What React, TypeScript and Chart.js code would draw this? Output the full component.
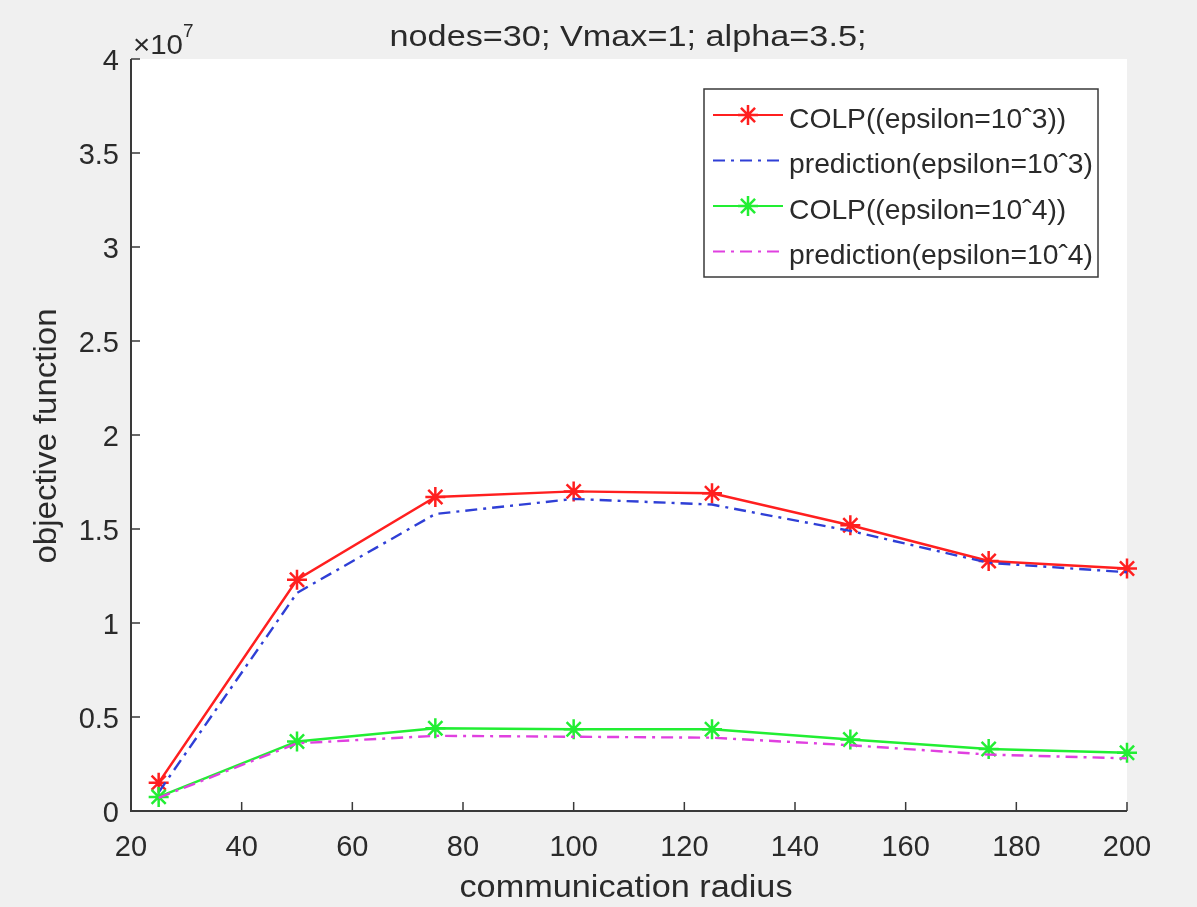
import React, { useEffect, useRef } from "react";
import { Chart, registerables } from "chart.js";

Chart.register(...registerables);

const radius = [25, 50, 75, 100, 125, 150, 175, 200];
const colp3 = [0.15, 1.23, 1.67, 1.7, 1.69, 1.52, 1.33, 1.29];
const pred3 = [0.1, 1.16, 1.58, 1.66, 1.63, 1.49, 1.32, 1.27];
const colp4 = [0.075, 0.37, 0.44, 0.435, 0.435, 0.38, 0.33, 0.31];
const pred4 = [0.07, 0.36, 0.4, 0.395, 0.39, 0.35, 0.3, 0.28];
const xTicks = [20, 40, 60, 80, 100, 120, 140, 160, 180, 200];
const yTicks = [0, 0.5, 1, 1.5, 2, 2.5, 3, 3.5, 4];
const legendLabels = [
  "COLP((epsilon=10ˆ3))",
  "prediction(epsilon=10ˆ3)",
  "COLP((epsilon=10ˆ4))",
  "prediction(epsilon=10ˆ4)",
];
const titleText = "nodes=30; Vmax=1; alpha=3.5;";
const xTitle = "communication radius";
const yTitle = "objective function";

const FONT = '"Liberation Sans", Arial, Helvetica, sans-serif';
const TEXT = "#2a2a2a";
const AXIS = "#3a3a3a";
const RED = "#ff1f1f";
const BLUE = "#2f3fd6";
const GREEN = "#22ee33";
const MAGENTA = "#e040e0";
const DASHDOT = [12, 6, 3, 6];

function drawText(
  ctx: CanvasRenderingContext2D,
  s: string,
  x: number,
  y: number,
  size: number,
  align: CanvasTextAlign,
  baseline: CanvasTextBaseline,
  targetW?: number
) {
  ctx.save();
  ctx.font = `${size}px ${FONT}`;
  ctx.fillStyle = TEXT;
  ctx.textBaseline = baseline;
  let sx = 1;
  if (targetW) sx = targetW / ctx.measureText(s).width;
  ctx.translate(x, y);
  ctx.scale(sx, 1);
  ctx.textAlign = align;
  ctx.fillText(s, 0, 0);
  ctx.restore();
}

function drawStar(ctx: CanvasRenderingContext2D, x: number, y: number, r: number, color: string) {
  ctx.save();
  ctx.strokeStyle = color;
  ctx.lineWidth = 2.5;
  ctx.setLineDash([]);
  ctx.beginPath();
  for (let i = 0; i < 4; i++) {
    const a = (i * Math.PI) / 4;
    ctx.moveTo(x - r * Math.cos(a), y - r * Math.sin(a));
    ctx.lineTo(x + r * Math.cos(a), y + r * Math.sin(a));
  }
  ctx.stroke();
  ctx.restore();
}

const decorPlugin = {
  id: "decor",
  beforeDraw(chart: any) {
    const { ctx, chartArea: a } = chart;
    ctx.save();
    ctx.fillStyle = "#f0f0f0";
    ctx.fillRect(0, 0, chart.width, chart.height);
    ctx.fillStyle = "#ffffff";
    ctx.fillRect(a.left, a.top, a.right - a.left, a.bottom - a.top);
    ctx.restore();
  },
  afterDraw(chart: any) {
    const { ctx, chartArea: a } = chart;
    const xs = chart.scales.x;
    const ys = chart.scales.y;
    ctx.save();
    ctx.strokeStyle = AXIS;
    ctx.lineWidth = 2;
    ctx.beginPath();
    ctx.moveTo(a.left, a.top);
    ctx.lineTo(a.left, a.bottom);
    ctx.lineTo(a.right, a.bottom);
    ctx.stroke();
    ctx.lineWidth = 1.5;
    ctx.beginPath();
    xTicks.forEach((v) => {
      const px = xs.getPixelForValue(v);
      ctx.moveTo(px, a.bottom);
      ctx.lineTo(px, a.bottom - 9);
    });
    yTicks.forEach((v) => {
      const py = ys.getPixelForValue(v);
      ctx.moveTo(a.left, py);
      ctx.lineTo(a.left + 9, py);
    });
    ctx.stroke();
    ctx.restore();
    // tick labels
    xTicks.forEach((v) => {
      drawText(ctx, String(v), xs.getPixelForValue(v), 856, 29, "center", "alphabetic");
    });
    yTicks.forEach((v) => {
      drawText(ctx, String(v), 119, ys.getPixelForValue(v) + 3, 29, "right", "middle");
    });
    // exponent
    drawText(ctx, "×10", 133, 54, 28, "left", "alphabetic", 50);
    drawText(ctx, "7", 183, 37, 19, "left", "alphabetic");
    // titles
    drawText(ctx, titleText, 628, 46, 30, "center", "alphabetic", 477);
    drawText(ctx, xTitle, 626, 897, 31, "center", "alphabetic", 333);
    ctx.save();
    ctx.translate(47, 436);
    ctx.rotate(-Math.PI / 2);
    drawText(ctx, yTitle, 0, 0, 31, "center", "middle", 255);
    ctx.restore();
    // legend
    const bx = 704, by = 89, bw = 394, bh = 188;
    ctx.save();
    ctx.fillStyle = "#ffffff";
    ctx.fillRect(bx, by, bw, bh);
    ctx.strokeStyle = AXIS;
    ctx.lineWidth = 1.5;
    ctx.strokeRect(bx, by, bw, bh);
    ctx.restore();
    const styles = [
      { c: RED, dash: [] as number[], star: true },
      { c: BLUE, dash: DASHDOT, star: false },
      { c: GREEN, dash: [] as number[], star: true },
      { c: MAGENTA, dash: DASHDOT, star: false },
    ];
    ctx.save();
    ctx.font = `28px ${FONT}`;
    const legScale = 304 / ctx.measureText(legendLabels[1]).width;
    ctx.restore();
    legendLabels.forEach((lab, i) => {
      const ly = 115 + i * 45.5;
      const st = styles[i];
      ctx.save();
      ctx.strokeStyle = st.c;
      ctx.lineWidth = 2.2;
      ctx.setLineDash(st.dash);
      ctx.beginPath();
      ctx.moveTo(713, ly);
      ctx.lineTo(783, ly);
      ctx.stroke();
      ctx.restore();
      if (st.star) drawStar(ctx, 748, ly, 10, st.c);
      ctx.save();
      ctx.font = `28px ${FONT}`;
      const w = ctx.measureText(lab).width * legScale;
      ctx.restore();
      drawText(ctx, lab, 789, ly + 5, 28, "left", "middle", w);
    });
  },
};

export default function App() {
  const ref = useRef<HTMLCanvasElement>(null);
  useEffect(() => {
    document.body.style.margin = "0";
    const pts = (arr: number[]) => arr.map((y, i) => ({ x: radius[i], y }));
    const chart = new Chart(ref.current as HTMLCanvasElement, {
      type: "line",
      data: {
        datasets: [
          {
            label: legendLabels[0],
            data: pts(colp3),
            borderColor: RED,
            backgroundColor: RED,
            borderWidth: 2.4,
            pointStyle: "star",
            pointRadius: 10,
            pointBorderWidth: 2.5,
            pointBorderColor: RED,
            order: 3,
            clip: false,
          },
          {
            label: legendLabels[1],
            data: pts(pred3),
            borderColor: BLUE,
            borderWidth: 2.4,
            borderDash: DASHDOT,
            pointRadius: 0,
            order: 2,
            clip: false,
          },
          {
            label: legendLabels[2],
            data: pts(colp4),
            borderColor: GREEN,
            backgroundColor: GREEN,
            borderWidth: 2.4,
            pointStyle: "star",
            pointRadius: 10,
            pointBorderWidth: 2.5,
            pointBorderColor: GREEN,
            order: 1,
            clip: false,
          },
          {
            label: legendLabels[3],
            data: pts(pred4),
            borderColor: MAGENTA,
            borderWidth: 2.4,
            borderDash: DASHDOT,
            pointRadius: 0,
            order: 0,
            clip: false,
          },
        ],
      },
      options: {
        animation: false,
        responsive: false,
        devicePixelRatio: 1,
        layout: { padding: { left: 131, right: 70, top: 59, bottom: 96 } },
        plugins: { legend: { display: false }, tooltip: { enabled: false }, title: { display: false } },
        scales: {
          x: { type: "linear", min: 20, max: 200, display: false },
          y: { type: "linear", min: 0, max: 4, display: false },
        },
      },
      plugins: [decorPlugin],
    });
    return () => chart.destroy();
  }, []);
  return (
    <div style={{ width: 1197, height: 907 }}>
      <canvas ref={ref} width={1197} height={907} style={{ display: "block" }} />
    </div>
  );
}
